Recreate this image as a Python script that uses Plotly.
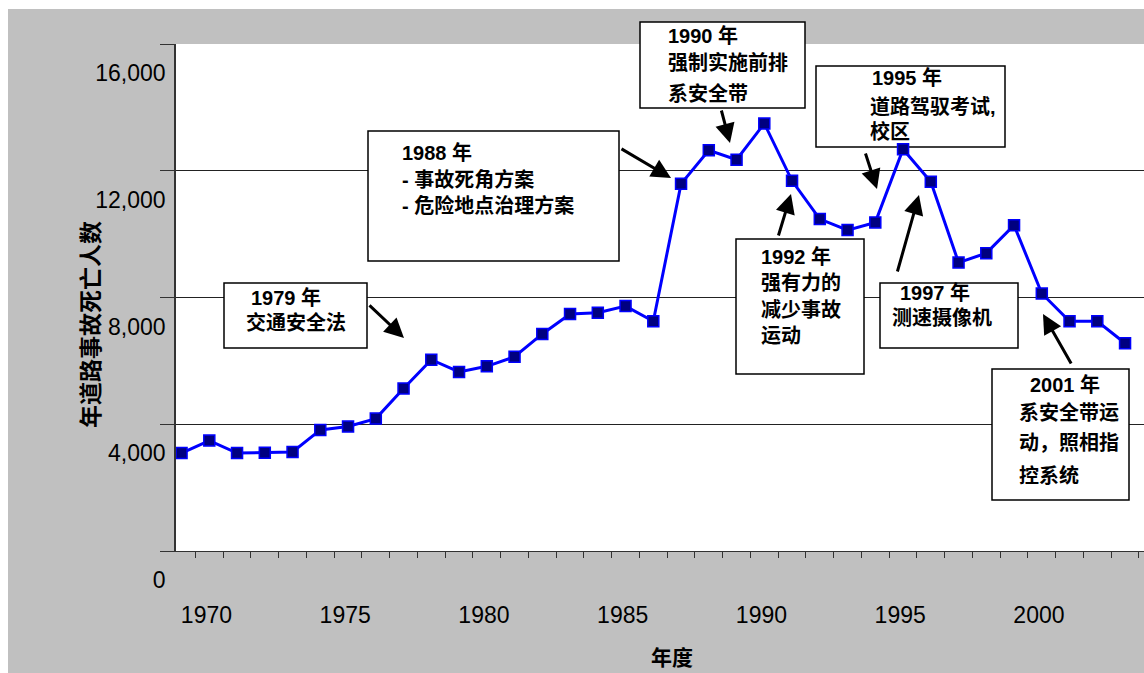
import plotly.graph_objects as go

# ---------------- data ----------------
years = list(range(1970, 2005))
deaths = [3090, 3485, 3090, 3100, 3126, 3822, 3927, 4178, 5128, 6037,
          5650, 5828, 6131, 6851, 7478, 7520, 7728, 7249, 11587, 12645,
          12349, 13492, 11683, 10476, 10127, 10370, 12680, 11650, 9103, 9400,
          10281, 8127, 7247, 7247, 6557]

y_tick_values = [0, 4000, 8000, 12000, 16000]
y_tick_labels = ["0", "4,000", "8,000", "12,000", "16,000"]
x_label_years = [1970, 1975, 1980, 1985, 1990, 1995, 2000]

y_title = "年道路事故死亡人数"
x_title = "年度"

notes = [
    ["<b>1979 年</b>", "<b>交通安全法</b>"],
    ["<b>1988 年</b>", "<b>- 事故死角方案</b>", "<b>- 危险地点治理方案</b>"],
    ["<b>1990 年</b>", "<b>强制实施前排</b>", "<b>系安全带</b>"],
    ["<b>1995 年</b>", "<b>道路驾驭考试,</b>", "<b>校区</b>"],
    ["<b>1992 年</b>", "<b>强有力的</b>", "<b>减少事故</b>", "<b>运动</b>"],
    ["<b>1997 年</b>", "<b>测速摄像机</b>"],
    ["<b>2001 年</b>", "<b>系安全带运</b>", "<b>动，照相指</b>", "<b>控系统</b>"],
]

# ---------------- layout geometry (pixels) ----------------
W, H = 1144, 673
ML, MR, MT, MB = 176, 0, 44, 122
PW, PH = W - ML - MR, H - MT - MB
XR = [1969.8, 1969.8 + PW / 27.75]
YR = [0, 16000]


def px2x(px):
    return XR[0] + (px - ML) / PW * (XR[1] - XR[0])


def py2y(py):
    return YR[0] + (MT + PH - py) / PH * (YR[1] - YR[0])


def px2p(px):
    return (px - ML) / PW


def py2p(py):
    return (MT + PH - py) / PH


# boxes: (x0, y0, x1, y1) in px
boxes = [
    (224, 283, 367, 348),
    (368, 131, 619, 261),
    (640, 22, 805, 108),
    (816, 66, 1005, 147),
    (736, 239, 864, 374),
    (880, 283, 1018, 348),
    (992, 369, 1129, 500),
]
# text lines: (left px, center y px)
text_pos = [
    [(249, 298), (244, 323)],
    [(400, 153), (400, 179), (400, 206)],
    [(666, 36), (666, 63), (666, 93)],
    [(870, 78), (868, 107), (868, 131)],
    [(759, 257), (759, 283), (759, 310), (759, 336)],
    [(898, 293), (890, 318)],
    [(1028, 385), (1017, 413), (1017, 443), (1017, 475)],
]
# arrows: (tail_x, tail_y, tip_x, tip_y) px
arrows = [
    (368, 304, 404, 338),
    (620, 148, 671, 178),
    (721, 109, 730, 143),
    (865, 152, 877, 189),
    (778, 237, 791, 194),
    (897, 273, 919, 195),
    (1072, 365, 1043, 314),
]

fig = go.Figure()
fig.add_trace(go.Scatter(
    x=years, y=deaths, mode="lines+markers",
    line=dict(color="#0000FF", width=3),
    marker=dict(symbol="square", size=11, color="#000080",
                line=dict(color="#0000FF", width=1.5)),
    showlegend=False, hoverinfo="x+y",
))

shapes = []
# white strips outside the gray frame (top and left)
shapes.append(dict(type="rect", xref="paper", yref="paper",
                   x0=px2p(-5), x1=px2p(W + 5), y0=py2p(9), y1=py2p(-5),
                   layer="above", fillcolor="white", line=dict(width=0)))
shapes.append(dict(type="rect", xref="paper", yref="paper",
                   x0=px2p(-5), x1=px2p(8), y0=py2p(H + 5), y1=py2p(-5),
                   layer="above", fillcolor="white", line=dict(width=0)))
for (x0, y0, x1, y1) in boxes:
    if y0 < MT:
        shapes.append(dict(type="rect", xref="paper", yref="paper",
                           x0=px2p(x0), x1=px2p(x1), y0=py2p(y1), y1=py2p(y0),
                           layer="above", fillcolor="white",
                           line=dict(color="black", width=1.5)))
    else:
        shapes.append(dict(type="rect", xref="x", yref="y",
                           x0=px2x(x0), x1=px2x(x1), y0=py2y(y1), y1=py2y(y0),
                           layer="between", fillcolor="white",
                           line=dict(color="black", width=1.5)))

annotations = []
for lines, poss in zip(notes, text_pos):
    for t, (lx, cy) in zip(lines, poss):
        annotations.append(dict(
            x=px2p(lx), y=py2p(cy), xref="paper", yref="paper", text=t,
            showarrow=False, xanchor="left", yanchor="middle",
            font=dict(family="Liberation Sans, Noto Sans CJK SC", size=20,
                      color="black")))
for (tx, ty, hx, hy) in arrows:
    annotations.append(dict(
        x=px2x(hx), y=py2y(hy), xref="x", yref="y", text="",
        showarrow=True, ax=tx - hx, ay=ty - hy,
        arrowhead=2, arrowsize=1.3, arrowwidth=3, arrowcolor="black",
        standoff=0, startstandoff=0))

annotations.append(dict(
    x=px2p(89), y=py2p(325), xref="paper", yref="paper",
    text="<b>" + y_title + "</b>", textangle=-90, showarrow=False,
    xanchor="center", yanchor="middle",
    font=dict(family="Noto Sans CJK SC", size=23, color="black")))
annotations.append(dict(
    x=px2p(672), y=py2p(673), xref="paper", yref="paper",
    text="<b>" + x_title + "</b>", showarrow=False,
    xanchor="center", yanchor="bottom",
    font=dict(family="Noto Sans CJK SC", size=21, color="black")))

# x ticks at category boundaries; labels at the boundary after each labeled year
bounds = [y + 0.5 for y in range(1969, 2005)]
btext = [str(int(b - 0.5)) if int(b - 0.5) in x_label_years else "" for b in bounds]

fig.update_layout(
    width=W, height=H,
    margin=dict(l=ML, r=MR, t=MT, b=MB, pad=0),
    paper_bgcolor="#C0C0C0", plot_bgcolor="white",
    shapes=shapes, annotations=annotations,
    xaxis=dict(range=XR, tickmode="array", tickvals=bounds, ticktext=btext,
               ticks="outside", ticklen=6, tickwidth=1, tickcolor="#333333",
               showline=True, linecolor="#333333", linewidth=1.2,
               showgrid=False, zeroline=False,
               ticklabelshift=11, ticklabelstandoff=37,
               tickfont=dict(family="Liberation Sans, Arial", size=23,
                             color="black")),
    yaxis=dict(range=YR, tickmode="array", tickvals=y_tick_values,
               ticktext=y_tick_labels, ticks="outside", ticklen=14,
               tickwidth=1, tickcolor="#333333",
               showline=True, linecolor="#333333", linewidth=1.5,
               showgrid=True, gridcolor="#222222", gridwidth=1,
               zeroline=False, ticklabelshift=29, ticklabelstandoff=-10,
               tickfont=dict(family="Liberation Sans, Arial", size=23,
                             color="black")),
)

fig.write_html("out.html")
